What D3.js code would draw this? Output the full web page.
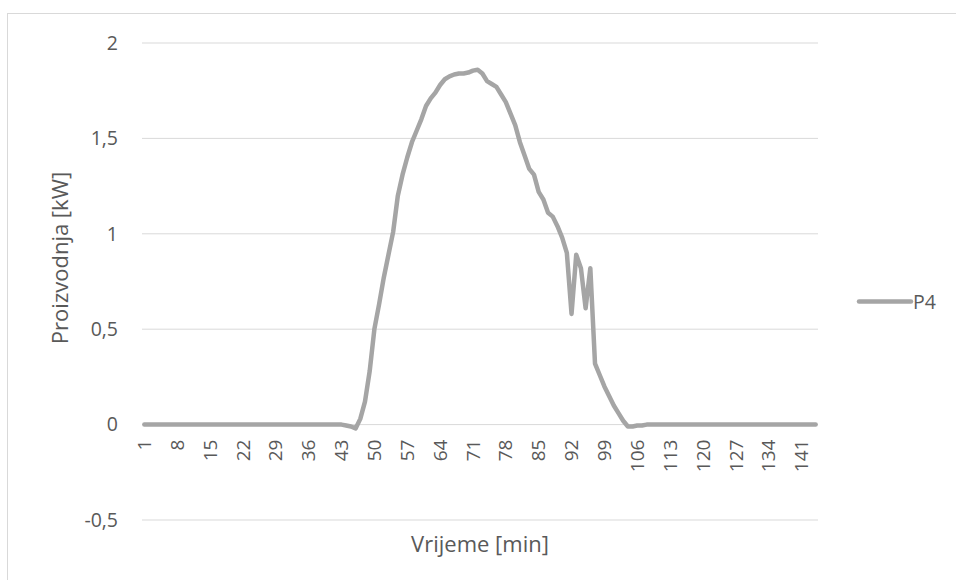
<!DOCTYPE html>
<html>
<head>
<meta charset="utf-8">
<script src="https://cdn.jsdelivr.net/npm/d3@7"></script>
<style>
  body { margin: 0; background: #fff; }
  text { font-family: "Open Sans", sans-serif; fill: #595959; }
</style>
</head>
<body>
<div id="chart"></div>
<script>
// P4 production per time step (144 steps)
var seriesName = "P4";
var yTicks = [-0.5, 0, 0.5, 1, 1.5, 2];
var p4 = [
  0, 0, 0, 0, 0, 0, 0, 0, 0, 0,
  0, 0, 0, 0, 0, 0, 0, 0, 0, 0,
  0, 0, 0, 0, 0, 0, 0, 0, 0, 0,
  0, 0, 0, 0, 0, 0, 0, 0, 0, 0,
  0, 0, 0, -0.005, -0.01, -0.02, 0.03, 0.12, 0.28, 0.5,
  0.63, 0.77, 0.89, 1.01, 1.2, 1.31, 1.4, 1.48, 1.54, 1.6,
  1.67, 1.71, 1.74, 1.78, 1.81, 1.825, 1.835, 1.84, 1.84, 1.845,
  1.855, 1.86, 1.84, 1.8, 1.785, 1.77, 1.73, 1.69, 1.63, 1.57,
  1.48, 1.41, 1.34, 1.31, 1.22, 1.18, 1.11, 1.09, 1.04, 0.98,
  0.9, 0.58, 0.89, 0.82, 0.61, 0.82, 0.32, 0.26, 0.2, 0.15,
  0.1, 0.06, 0.02, -0.01, -0.01, -0.005, -0.005, 0, 0, 0,
  0, 0, 0, 0, 0, 0, 0, 0, 0, 0,
  0, 0, 0, 0, 0, 0, 0, 0, 0, 0,
  0, 0, 0, 0, 0, 0, 0, 0, 0, 0,
  0, 0, 0, 0
];
var minutes = d3.range(1, p4.length + 1);

var W = 956, H = 580;
var svg = d3.select("#chart").append("svg")
  .attr("width", W)
  .attr("height", H);

// chart frame
svg.append("rect")
  .attr("x", 7.5).attr("y", 13.5)
  .attr("width", W + 10).attr("height", H + 10)
  .attr("fill", "none")
  .attr("stroke", "#d9d9d9");

var x = d3.scaleBand().domain(minutes).range([142, 818]).padding(0);
var y = d3.scaleLinear().domain([-0.5, 2]).range([520, 43]);

// gridlines
svg.append("g")
  .selectAll("line")
  .data(yTicks)
  .enter()
  .append("line")
    .attr("x1", 142).attr("x2", 818)
    .attr("y1", d => y(d)).attr("y2", d => y(d))
    .attr("stroke", "#d9d9d9")
    .attr("stroke-width", 1);

// y axis labels
var fmt = d => String(d).replace(".", ",");
var yAxis = svg.append("g")
  .attr("transform", "translate(130,0)")
  .call(d3.axisLeft(y).tickValues(yTicks).tickFormat(fmt).tickSize(0).tickPadding(12));
yAxis.select(".domain").remove();
yAxis.selectAll("text")
  .style("font-family", "Open Sans")
  .style("font-size", "19.5px")
  .attr("fill", "#595959");

// x axis labels every 7 minutes
var xAxis = svg.append("g")
  .attr("transform", "translate(0," + y(0) + ")")
  .call(d3.axisBottom(x).tickValues(minutes.filter(d => (d - 1) % 7 == 0)).tickSize(0));
xAxis.select(".domain").remove();
xAxis.selectAll("text")
  .style("font-family", "Open Sans")
  .style("font-size", "19px")
  .attr("fill", "#595959")
  .attr("text-anchor", "end")
  .attr("transform", "rotate(-90)")
  .attr("x", -15)
  .attr("y", 0)
  .attr("dy", "0.35em");

// line
var line = d3.line()
  .x((d, i) => x(minutes[i]) + x.bandwidth() / 2)
  .y(d => y(d));

svg.append("path")
  .datum(p4)
  .attr("d", line)
  .attr("fill", "none")
  .attr("stroke", "#a5a5a5")
  .attr("stroke-width", 4.5)
  .attr("stroke-linejoin", "round")
  .attr("stroke-linecap", "round");

// legend
svg.append("line")
  .attr("x1", 859).attr("x2", 911)
  .attr("y1", 301.5).attr("y2", 301.5)
  .attr("stroke", "#a5a5a5")
  .attr("stroke-width", 4.5)
  .attr("stroke-linecap", "round");
svg.append("text")
  .attr("x", 913).attr("y", 308.5)
  .style("font-size", "19.5px")
  .text(seriesName);

// axis titles
svg.append("text")
  .attr("text-anchor", "middle")
  .attr("x", 480).attr("y", 552)
  .style("font-size", "22px")
  .text("Vrijeme [min]");

svg.append("text")
  .attr("text-anchor", "middle")
  .attr("transform", "translate(68,258) rotate(-90)")
  .style("font-size", "22px")
  .text("Proizvodnja [kW]");
</script>
</body>
</html>
